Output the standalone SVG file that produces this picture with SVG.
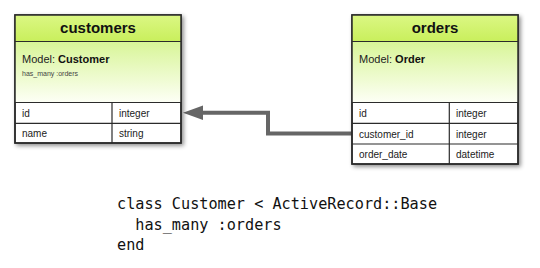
<svg xmlns="http://www.w3.org/2000/svg" width="540" height="268" viewBox="0 0 540 268">
  <defs>
    <linearGradient id="hdr" x1="0" y1="0" x2="0" y2="1">
      <stop offset="0" stop-color="#dbf784"/>
      <stop offset="1" stop-color="#c9ef5c"/>
    </linearGradient>
    <linearGradient id="mdl" x1="0" y1="0" x2="0" y2="1">
      <stop offset="0" stop-color="#d8f597"/>
      <stop offset="1" stop-color="#fdfff6"/>
    </linearGradient>
    <filter id="sh" x="-10%" y="-10%" width="125%" height="125%">
      <feDropShadow dx="2" dy="2" stdDeviation="2.2" flood-color="#000" flood-opacity="0.45"/>
    </filter>
  </defs>
  <style>
    .frame { fill: #ffffff; stroke: #2b2b2b; stroke-width: 1.5; }
    .hdr { fill: url(#hdr); }
    .mdl { fill: url(#mdl); }
    .line { stroke: #2b2b2b; stroke-width: 1.2; fill: none; }
    .title { font-family: "Liberation Sans", Arial, sans-serif; font-weight: bold; font-size: 15px; fill: #111; text-anchor: middle; }
    .model { font-family: "Liberation Sans", Arial, sans-serif; font-size: 11px; fill: #222; }
    .model tspan.b { font-weight: bold; fill: #111; }
    .note { font-family: "Liberation Sans", Arial, sans-serif; font-size: 7px; fill: #444; }
    .cell { font-family: "Liberation Sans", Arial, sans-serif; font-size: 10px; fill: #222; }
    .code { font-family: "DejaVu Sans Mono", "Liberation Mono", monospace; font-size: 15.2px; fill: #111; }
    .conn { stroke: #666666; stroke-width: 4; fill: none; }
    .head { fill: #666666; }
  </style>

  <g id="connectors">
    <polyline class="conn" points="352,133.5 268,133.5 268,112.7 198,112.7"/>
    <polygon class="head" points="183,112.7 203,105.5 203,119.9"/>
  </g>

  <g id="customers">
    <rect class="frame" x="15" y="15" width="166" height="128" filter="url(#sh)"/>
    <rect class="hdr" x="15" y="15" width="166" height="26.5"/>
    <rect class="mdl" x="15" y="41.5" width="166" height="61"/>
    <rect class="frame" x="15" y="15" width="166" height="128" style="fill:none"/>
    <line class="line" x1="15" y1="41.5" x2="181" y2="41.5"/>
    <line class="line" x1="15" y1="102.5" x2="181" y2="102.5"/>
    <line class="line" x1="15" y1="123.3" x2="181" y2="123.3"/>
    <line class="line" x1="112" y1="102.5" x2="112" y2="143"/>
    <text class="title" x="98" y="33.3">customers</text>
    <text class="model" x="22" y="63.3">Model: <tspan class="b">Customer</tspan></text>
    <text class="note" x="22" y="75.5">has_many :orders</text>
    <text class="cell" x="22" y="116.7">id</text>
    <text class="cell" x="119" y="116.7">integer</text>
    <text class="cell" x="22" y="137.3">name</text>
    <text class="cell" x="119" y="137.3">string</text>
  </g>

  <g id="orders">
    <rect class="frame" x="352" y="15" width="166" height="149" filter="url(#sh)"/>
    <rect class="hdr" x="352" y="15" width="166" height="26.5"/>
    <rect class="mdl" x="352" y="41.5" width="166" height="61"/>
    <rect class="frame" x="352" y="15" width="166" height="149" style="fill:none"/>
    <line class="line" x1="352" y1="41.5" x2="518" y2="41.5"/>
    <line class="line" x1="352" y1="102.5" x2="518" y2="102.5"/>
    <line class="line" x1="352" y1="123.3" x2="518" y2="123.3"/>
    <line class="line" x1="352" y1="144" x2="518" y2="144"/>
    <line class="line" x1="449.3" y1="102.5" x2="449.3" y2="164"/>
    <text class="title" x="435" y="33.3">orders</text>
    <text class="model" x="359" y="63.3">Model: <tspan class="b">Order</tspan></text>
    <text class="cell" x="359" y="116.7">id</text>
    <text class="cell" x="456" y="116.7">integer</text>
    <text class="cell" x="359" y="137.5">customer_id</text>
    <text class="cell" x="456" y="137.5">integer</text>
    <text class="cell" x="359" y="157.8">order_date</text>
    <text class="cell" x="456" y="157.8">datetime</text>
  </g>

  <g id="code">
    <text class="code" x="117" y="209.3">class Customer &lt; ActiveRecord::Base</text>
    <text class="code" x="117" y="229.6" xml:space="preserve">  has_many :orders</text>
    <text class="code" x="117" y="250">end</text>
  </g>
</svg>
